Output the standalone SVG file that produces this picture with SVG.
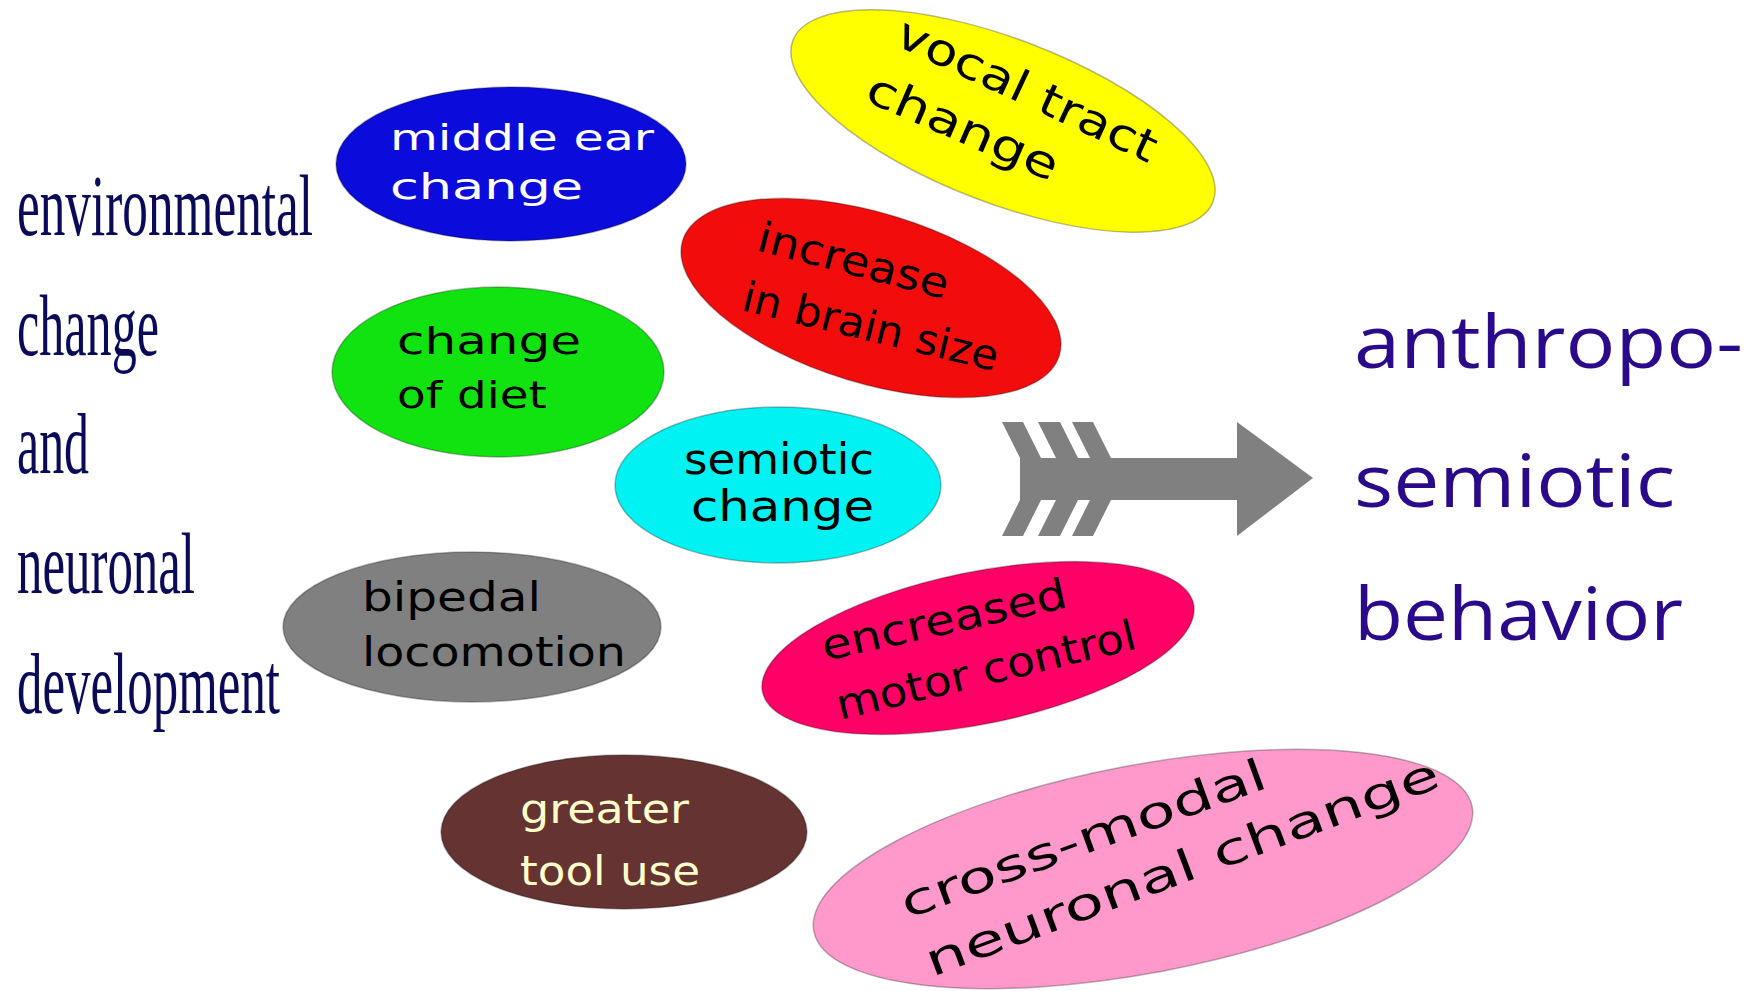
<svg xmlns="http://www.w3.org/2000/svg" width="1745" height="991" viewBox="0 0 1745 991">
  <style>
    .side { font-family: "Liberation Serif", "Times New Roman", serif; font-size: 86px; fill: #0a0a58; }
    .lbl { font-family: "DejaVu Sans", "Liberation Sans", sans-serif; }
    .bubble { stroke: rgba(0,0,0,0.28); stroke-width: 1.5; }
    .hand { font-family: "Open Sans", "Noto Sans", sans-serif; font-weight: 400; font-size: 74px; fill: #2a0a8a; }
    .arrow { fill: #808080; }
  </style>

  <rect width="1745" height="991" fill="#ffffff"/>

  <!-- left-hand caption -->
  <g id="source-caption">
    <text class="side" x="17" y="235" textLength="296" lengthAdjust="spacingAndGlyphs">environmental</text>
    <text class="side" x="17" y="355" textLength="142" lengthAdjust="spacingAndGlyphs">change</text>
    <text class="side" x="17" y="473" textLength="72" lengthAdjust="spacingAndGlyphs">and</text>
    <text class="side" x="17" y="593" textLength="178" lengthAdjust="spacingAndGlyphs">neuronal</text>
    <text class="side" x="17" y="713" textLength="263" lengthAdjust="spacingAndGlyphs">development</text>
  </g>

  <!-- factor bubbles -->
  <g id="node-middle-ear" class="lbl">
    <ellipse class="bubble" cx="511" cy="164" rx="175" ry="77" fill="#0b0bdc"/>
    <text x="390" y="150" font-size="36" fill="#ffffff" textLength="264" lengthAdjust="spacingAndGlyphs">middle ear</text>
    <text x="390" y="199" font-size="36" fill="#ffffff" textLength="193" lengthAdjust="spacingAndGlyphs">change</text>
  </g>

  <g id="node-vocal-tract" class="lbl">
    <ellipse class="bubble" rx="225" ry="82" fill="#ffff00" transform="translate(1003 121) rotate(21)"/>
    <text font-size="44" fill="#000000" textLength="282" lengthAdjust="spacingAndGlyphs" transform="translate(893 44) rotate(25)">vocal tract</text>
    <text font-size="44" fill="#000000" textLength="205" lengthAdjust="spacingAndGlyphs" transform="translate(863 100) rotate(23.5)">change</text>
  </g>

  <g id="node-brain-size" class="lbl">
    <ellipse class="bubble" rx="197" ry="85" fill="#f20c0c" transform="translate(871 298) rotate(17)"/>
    <text font-size="42" fill="#000000" textLength="196" lengthAdjust="spacingAndGlyphs" transform="translate(755 250) rotate(14.5)">increase</text>
    <text font-size="42" fill="#000000" textLength="262" lengthAdjust="spacingAndGlyphs" transform="translate(740 310) rotate(13.5)">in brain size</text>
  </g>

  <g id="node-diet" class="lbl">
    <ellipse class="bubble" cx="498" cy="372" rx="166" ry="85" fill="#11e311"/>
    <text x="397" y="354" font-size="38" fill="#000000" textLength="184" lengthAdjust="spacingAndGlyphs">change</text>
    <text x="397" y="408" font-size="38" fill="#000000" textLength="150" lengthAdjust="spacingAndGlyphs">of diet</text>
  </g>

  <g id="node-semiotic" class="lbl">
    <ellipse class="bubble" cx="778" cy="485" rx="163" ry="78" fill="#00f2f2"/>
    <text x="684" y="474" font-size="43" fill="#000000" textLength="190" lengthAdjust="spacingAndGlyphs">semiotic</text>
    <text x="691" y="521" font-size="43" fill="#000000" textLength="183" lengthAdjust="spacingAndGlyphs">change</text>
  </g>

  <g id="node-bipedal" class="lbl">
    <ellipse class="bubble" cx="472" cy="627" rx="189" ry="75" fill="#808080"/>
    <text x="362" y="611" font-size="40" fill="#000000" textLength="179" lengthAdjust="spacingAndGlyphs">bipedal</text>
    <text x="362" y="666" font-size="40" fill="#000000" textLength="264" lengthAdjust="spacingAndGlyphs">locomotion</text>
  </g>

  <g id="node-motor-control" class="lbl">
    <ellipse class="bubble" rx="220" ry="76" fill="#ff0066" transform="translate(978 648) rotate(-11.5)"/>
    <text font-size="42" fill="#000000" textLength="250" lengthAdjust="spacingAndGlyphs" transform="translate(825 661) rotate(-12.5)">encreased</text>
    <text font-size="42" fill="#000000" textLength="307" lengthAdjust="spacingAndGlyphs" transform="translate(840 720) rotate(-13.5)">motor control</text>
  </g>

  <g id="node-tool-use" class="lbl">
    <ellipse class="bubble" cx="624" cy="832" rx="183" ry="77" fill="#663333"/>
    <text x="520" y="823" font-size="41" fill="#ffffcc" textLength="169" lengthAdjust="spacingAndGlyphs">greater</text>
    <text x="520" y="885" font-size="41" fill="#ffffcc" textLength="180" lengthAdjust="spacingAndGlyphs">tool use</text>
  </g>

  <g id="node-cross-modal" class="lbl">
    <ellipse class="bubble" rx="335" ry="104" fill="#ff99cc" transform="translate(1143 869) rotate(-10.7)"/>
    <text font-size="44" fill="#000000" textLength="386" lengthAdjust="spacingAndGlyphs" transform="translate(907 919) rotate(-20)">cross-modal</text>
    <text font-size="44" fill="#000000" textLength="545" lengthAdjust="spacingAndGlyphs" transform="translate(932 977) rotate(-20.5)">neuronal change</text>
  </g>

  <!-- feathered arrow -->
  <g id="connectors" class="arrow">
    <rect x="1020" y="458" width="219" height="42"/>
    <polygon points="1237,422 1313,478 1237,536"/>
    <polygon points="1002,422 1023,422 1041,458 1020,458"/>
    <polygon points="1038,422 1060,422 1078,458 1056,458"/>
    <polygon points="1072,422 1093,422 1111,458 1090,458"/>
    <polygon points="1020,500 1041,500 1023,536 1002,536"/>
    <polygon points="1056,500 1078,500 1060,536 1038,536"/>
    <polygon points="1090,500 1111,500 1093,536 1072,536"/>
  </g>

  <!-- outcome caption -->
  <g id="node-outcome">
    <text class="hand" x="1354" y="368" textLength="389" lengthAdjust="spacingAndGlyphs">anthropo-</text>
    <text class="hand" x="1354" y="507" textLength="321" lengthAdjust="spacingAndGlyphs">semiotic</text>
    <text class="hand" x="1354" y="640" textLength="329" lengthAdjust="spacingAndGlyphs">behavior</text>
  </g>
</svg>
